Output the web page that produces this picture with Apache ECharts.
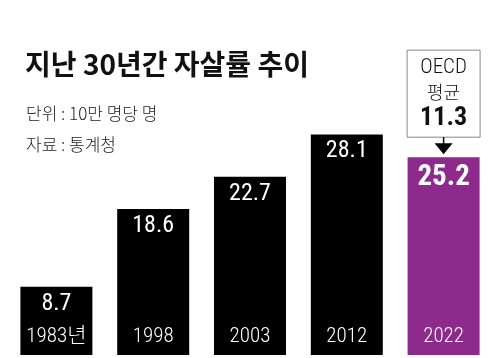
<!DOCTYPE html>
<html><head><meta charset="utf-8">
<script src="https://cdn.jsdelivr.net/npm/echarts@6/dist/echarts.min.js"></script>
<style>html,body{margin:0;padding:0;background:#fff}#c{width:500px;height:358px}</style>
</head><body><div id="c"></div>
<script>
const categories = ['1983년', '1998', '2003', '2012', '2022'];
const values = [8.7, 18.6, 22.7, 28.1, 25.2];
const oecdAvg = 11.3;
const titleText = '지난 30년간 자살률 추이';
const unitText = '단위 : 10만 명당 명';
const sourceText = '자료 : 통계청';

const NFONT = '"Liberation Sans Narrow", "Roboto Condensed", Roboto, "Noto Sans CJK KR", sans-serif';
const KFONT = '"Noto Sans CJK KR", sans-serif';
const PURPLE = '#8e2a8c';
const lastIdx = values.length - 1;

const chart = echarts.init(document.getElementById('c'), null, {renderer: 'canvas'});
chart.setOption({
  animation: false,
  title: [
    {text: titleText, left: 20, top: 45, textStyle: {fontFamily: KFONT, fontSize: 28, fontWeight: 'bold', color: '#111'}},
    {text: unitText, left: 21, top: 100, textStyle: {fontFamily: KFONT, fontSize: 17, fontWeight: 300, color: '#222'}},
    {text: sourceText, left: 21, top: 131, textStyle: {fontFamily: KFONT, fontSize: 17, fontWeight: 300, color: '#222'}}
  ],
  grid: {left: 8, right: 8, top: 41, bottom: 3, containLabel: false},
  xAxis: {
    type: 'category', data: categories, z: 10,
    axisLine: {show: false}, axisTick: {show: false},
    axisLabel: {inside: true, margin: 8, color: '#fff', fontSize: 21, fontFamily: NFONT, fontWeight: 300}
  },
  yAxis: {type: 'value', min: 0, max: 40, show: false, splitLine: {show: false}},
  series: [{
    type: 'bar', barWidth: 72,
    data: values.map((v, i) => ({
      value: v,
      itemStyle: {color: i === lastIdx ? PURPLE : '#000'},
      label: i === lastIdx ? {fontSize: 29, fontWeight: 'bold', distance: 6} : {}
    })),
    label: {show: true, position: 'insideTop', distance: 5, color: '#fff', fontSize: 24, fontFamily: NFONT, fontWeight: 'normal'}
  }]
});

// OECD annotation attached to last bar
const barTop = chart.convertToPixel({xAxisIndex: 0, yAxisIndex: 0}, [lastIdx, values[lastIdx]]);
const cx = barTop[0], ty = barTop[1];
const boxW = 73, boxBottom = ty - 20, boxTop = ty - 107;
chart.setOption({
  graphic: [
    {type: 'rect', shape: {x: cx - boxW / 2, y: boxTop, width: boxW, height: boxBottom - boxTop},
     style: {fill: '#fff', stroke: '#888', lineWidth: 1}},
    {type: 'text', x: cx, y: boxTop + 18, style: {text: 'OECD', fill: '#111', font: '300 21px ' + NFONT, align: 'center', verticalAlign: 'middle'}},
    {type: 'text', x: cx, y: boxTop + 42, style: {text: '평균', fill: '#111', font: '300 18px ' + KFONT, align: 'center', verticalAlign: 'middle'}},
    {type: 'text', x: cx, y: boxTop + 68, style: {text: String(oecdAvg), fill: '#111', font: 'bold 26px ' + NFONT, align: 'center', verticalAlign: 'middle'}},
    {type: 'line', shape: {x1: cx, y1: boxBottom, x2: cx, y2: ty - 12}, style: {stroke: '#000', lineWidth: 1.5}},
    {type: 'polygon', shape: {points: [[cx - 9, ty - 14], [cx + 9, ty - 14], [cx, ty - 3]]}, style: {fill: '#000'}}
  ]
});
</script></body></html>
